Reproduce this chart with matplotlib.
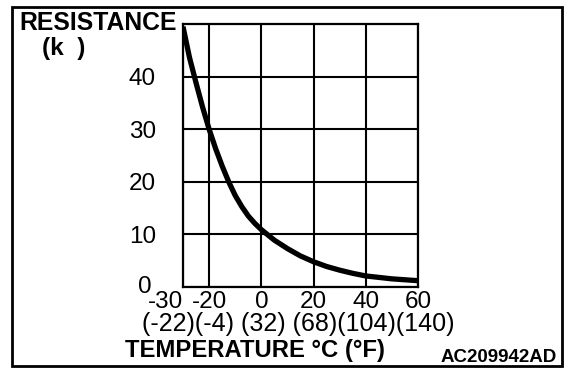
import matplotlib
matplotlib.use("Agg")
import matplotlib.pyplot as plt
from matplotlib.patches import Rectangle
from matplotlib.transforms import ScaledTranslation

plt.rcParams['font.family'] = ['Liberation Sans', 'DejaVu Sans']

# Data
temps_c = [-30, -27.5, -25, -22.5, -20, -17.5, -15, -12.5, -10, -7.5, -5, -2.5, 0,
           5, 10, 15, 20, 25, 30, 35, 40, 50, 60]
resistance_k = [49.5, 43.6, 38.8, 34.2, 30.0, 26.3, 23.0, 20.0, 17.4, 15.3, 13.5, 12.1, 10.9,
                8.9, 7.3, 5.9, 4.8, 3.9, 3.2, 2.6, 2.1, 1.55, 1.2]

x_ticks = [-30, -20, 0, 20, 40, 60]
x_tick_labels = ["-30", "-20", "0", "20", "40", "60"]
y_ticks = [0, 10, 20, 30, 40]
y_tick_labels = ["0", "10", "20", "30", "40"]
fahrenheit_row = "(-22)(-4) (32) (68)(104)(140)"
y_title = "RESISTANCE"
y_unit = "(k  )"
x_title = "TEMPERATURE °C (°F)"
code = "AC209942AD"

W, H = 576, 380
fig = plt.figure(figsize=(W / 100, H / 100), dpi=100)

def fx(px):
    return px / W

def fy(py):
    return 1 - py / H

ax = fig.add_axes([fx(183), fy(287), fx(418) - fx(183), fy(24) - fy(287)])
ax.set_xlim(-30, 60)
ax.set_ylim(0, 50)
ax.plot(temps_c, resistance_k, color='black', lw=3.8, solid_capstyle='butt',
        solid_joinstyle='round', zorder=3)

ax.set_xticks(x_ticks)
ax.set_xticklabels(x_tick_labels, fontsize=17.5)
ax.set_yticks(y_ticks)
ax.set_yticklabels(y_tick_labels, fontsize=17.5)
ax.get_xticklabels()[0].set_horizontalalignment('right')
ax.tick_params(axis='both', length=0)
ax.tick_params(axis='x', pad=3)
ax.tick_params(axis='y', pad=19.5)
zero_lbl = ax.get_yticklabels()[0]
zero_lbl.set_transform(zero_lbl.get_transform() + ScaledTranslation(-0.04, 0.025, fig.dpi_scale_trans))
ax.grid(True, color='black', lw=1.5)
for s in ax.spines.values():
    s.set_linewidth(1.6)
    s.set_color('black')

fig.text(fx(142), fy(324), fahrenheit_row, fontsize=18, ha='left', va='center')
fig.text(fx(19), fy(23.5), y_title, fontsize=17.8, fontweight='bold', ha='left', va='center')
fig.text(fx(42), fy(49), y_unit, fontsize=17.5, fontweight='bold', ha='left', va='center')
fig.text(fx(125), fy(350), x_title, fontsize=17.2, fontweight='bold', ha='left', va='center')
fig.text(fx(557), fy(357.5), code, fontsize=13.5, fontweight='bold', ha='right', va='center')

border = Rectangle((fx(12), fy(366)), fx(562) - fx(12), fy(7) - fy(366),
                   transform=fig.transFigure, fill=False, edgecolor='black', lw=2)
fig.patches.append(border)

fig.savefig("out.png", dpi=100)
